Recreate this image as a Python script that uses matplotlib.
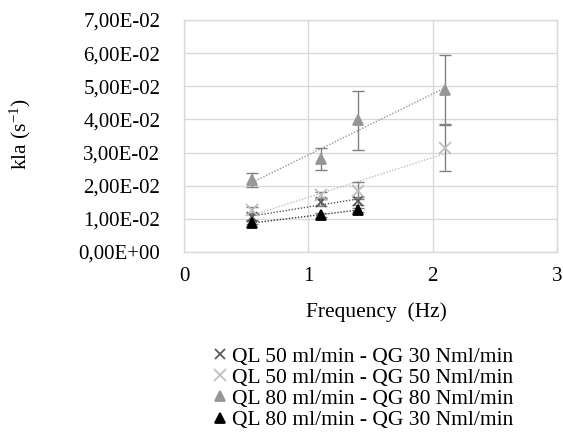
import numpy as np
import matplotlib
matplotlib.use("Agg")
import matplotlib.pyplot as plt
from matplotlib.ticker import FixedLocator

plt.rcParams['font.family'] = ['Liberation Serif', 'DejaVu Serif']
plt.rcParams['mathtext.fontset'] = 'custom'
plt.rcParams['mathtext.rm'] = 'Liberation Serif'
plt.rcParams['mathtext.it'] = 'Liberation Serif:italic'

freq_a = [0.55, 1.1, 1.4]
freq_b = [0.55, 1.1, 1.4, 2.1]

# QL 50 ml/min - QG 30 Nml/min
s1_y = [0.0106, 0.0150, 0.0155]
s1_err = [0.0008, 0.0010, 0.0012]
# QL 50 ml/min - QG 50 Nml/min
s2_y = [0.0127, 0.0172, 0.0185, 0.0314]
s2_err = [0.0010, 0.0010, 0.0025, 0.0070]
# QL 80 ml/min - QG 80 Nml/min
s3_y = [0.0217, 0.0280, 0.0397, 0.0490]
s3_err = [0.0022, 0.0033, 0.0088, 0.0105]
# QL 80 ml/min - QG 30 Nml/min
s4_y = [0.0088, 0.0112, 0.0127]
s4_err = [0.0005, 0.0005, 0.0007]

labels = ["QL 50 ml/min - QG 30 Nml/min",
          "QL 50 ml/min - QG 50 Nml/min",
          "QL 80 ml/min - QG 80 Nml/min",
          "QL 80 ml/min - QG 30 Nml/min"]

yticks = [0, 0.01, 0.02, 0.03, 0.04, 0.05, 0.06, 0.07]
ytick_labels = ["0,00E+00", "1,00E-02", "2,00E-02", "3,00E-02",
                "4,00E-02", "5,00E-02", "6,00E-02", "7,00E-02"]
xticks = [0, 1, 2, 3]

fig = plt.figure(figsize=(5.63, 4.32), dpi=100)
ax = fig.add_axes([184/563, 1-252/432, (557-184)/563, (252-20)/432])

series = [
    (freq_a, s1_y, s1_err, 'x', '#595959', 7, labels[0]),
    (freq_b, s2_y, s2_err, 'x', '#bfbfbf', 8, labels[1]),
    (freq_b, s3_y, s3_err, '^', '#969696', 7.5, labels[2]),
    (freq_a, s4_y, s4_err, '^', '#000000', 7.5, labels[3]),
]

handles = []
for xs, ys, es, mk, col, ms, lab in series:
    ax.errorbar(xs, ys, yerr=es, fmt='none', ecolor='#808080', elinewidth=1.0,
                capsize=4.5, capthick=1.0, zorder=3)
    h, = ax.plot(xs, ys, linestyle='none', marker=mk, color=col, markersize=ms,
                 markeredgewidth=1.3, label=lab, zorder=4)
    handles.append(h)
    # linear trend line
    p = np.polyfit(xs, ys, 1)
    xx = np.array([min(xs), max(xs)])
    ax.plot(xx, np.polyval(p, xx), linestyle=(0, (1, 1.2)),
            color=col if col != '#000000' else '#404040',
            linewidth=1.0, zorder=2)

ax.set_xlim(0, 3)
ax.set_ylim(0, 0.07)
ax.yaxis.set_major_locator(FixedLocator(yticks))
ax.set_yticklabels(ytick_labels)
ax.xaxis.set_major_locator(FixedLocator(xticks))
ax.set_xticklabels([str(t) for t in xticks])
ax.grid(True, color='#d9d9d9', linewidth=1.0)
ax.set_axisbelow(True)
for s in ax.spines.values():
    s.set_color('#d9d9d9')
    s.set_linewidth(1.0)
ax.tick_params(length=0, labelsize=15, colors='#000000')
ax.tick_params(axis='x', pad=11)
ax.tick_params(axis='y', pad=17)

ax.set_xlabel("Frequency  (Hz)", fontsize=15.5)
ax.xaxis.set_label_coords(0.515, -(312-252)/232)
ax.xaxis.label.set_va('center')
ax.set_ylabel("kla (s$^{\\mathrm{-1}}$)", fontsize=15.5)
ax.yaxis.set_label_coords(-(184-20)/373, 0.51)
ax.yaxis.label.set_va('center')

fig.legend(handles=handles, labels=labels, loc='upper center',
           bbox_to_anchor=(364/563, 1-338/432), frameon=False, fontsize=15.5,
           handlelength=0.5, handletextpad=0.3, labelspacing=0.05,
           borderaxespad=0)

fig.savefig("out.png", dpi=100)
